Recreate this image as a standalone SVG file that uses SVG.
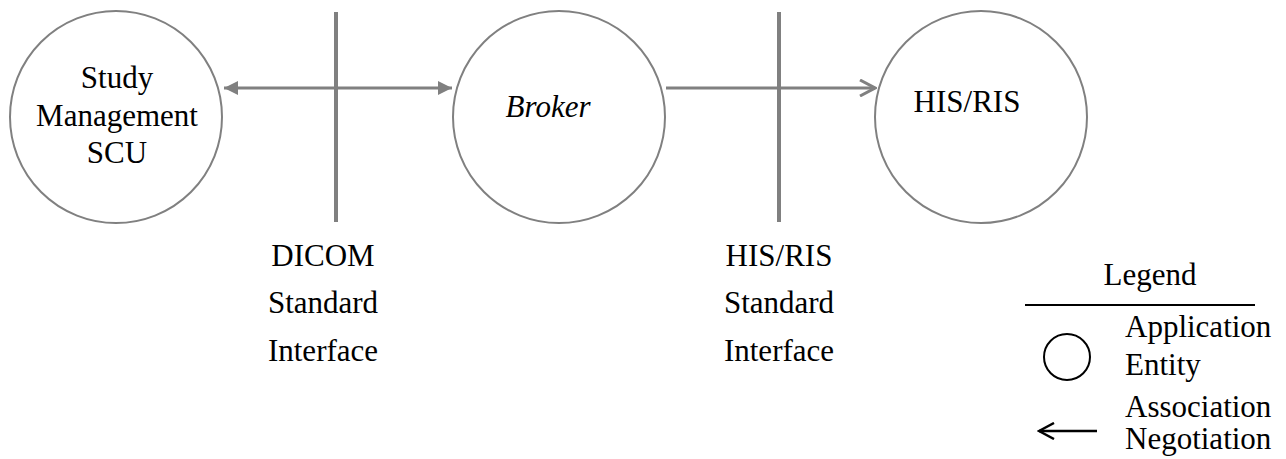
<svg xmlns="http://www.w3.org/2000/svg" width="1286" height="459" viewBox="0 0 1286 459" font-family="'Liberation Serif', 'DejaVu Serif', 'Times New Roman', Times, serif">
<style>
.ae{fill:#fff;stroke:#808080;stroke-width:2}
.bar{stroke:#808080;stroke-width:4}
.conn{stroke:#808080;stroke-width:3;fill:none}
text{font-family:'Liberation Serif','DejaVu Serif','Times New Roman',Times,serif;font-size:31px;fill:#000}
.c{text-anchor:middle}
</style>
<defs>
<marker id="fill" viewBox="0 0 14 14" refX="14" refY="7" markerWidth="14" markerHeight="14" markerUnits="userSpaceOnUse" orient="auto-start-reverse">
<path d="M0,0 L14,7 L0,14 Z" fill="#808080"/>
</marker>
<marker id="open" viewBox="0 0 18 18" refX="16" refY="9" markerWidth="18" markerHeight="18" markerUnits="userSpaceOnUse" orient="auto">
<path d="M1,1 L16,9 L1,17" fill="none" stroke="#808080" stroke-width="3"/>
</marker>
<marker id="openb" viewBox="0 0 18 18" refX="16" refY="9" markerWidth="18" markerHeight="18" markerUnits="userSpaceOnUse" orient="auto">
<path d="M1,1 L16,9 L1,17" fill="none" stroke="#000" stroke-width="2.5"/>
</marker>
</defs>
<rect width="1286" height="459" fill="#fff"/>
<g id="interfaces">
<line class="bar" x1="336" y1="12" x2="336" y2="222"/>
<line class="bar" x1="779" y1="12" x2="779" y2="222"/>
</g>
<g id="node-scu">
<circle class="ae" cx="116" cy="117" r="106"/>
<text class="c" x="117" y="88">Study</text>
<text class="c" x="117" y="126">Management</text>
<text class="c" x="117" y="163">SCU</text>
</g>
<g id="node-broker">
<circle class="ae" cx="559" cy="117" r="106"/>
<text class="c" x="548" y="117" font-style="italic">Broker</text>
</g>
<g id="node-hisris">
<circle class="ae" cx="981" cy="117" r="106"/>
<text class="c" x="967" y="112">HIS/RIS</text>
</g>
<g id="connectors">
<line class="conn" x1="224" y1="88" x2="452" y2="88" marker-start="url(#fill)" marker-end="url(#fill)"/>
<line class="conn" x1="666" y1="88" x2="875" y2="88" marker-end="url(#open)"/>
</g>
<g id="label-dicom">
<text class="c" x="323" y="266">DICOM</text>
<text class="c" x="323" y="313">Standard</text>
<text class="c" x="323" y="361">Interface</text>
</g>
<g id="label-hisris">
<text class="c" x="779" y="266">HIS/RIS</text>
<text class="c" x="779" y="313">Standard</text>
<text class="c" x="779" y="361">Interface</text>
</g>
<g id="legend">
<text class="c" x="1150" y="285">Legend</text>
<line x1="1025" y1="305" x2="1255" y2="305" stroke="#000" stroke-width="2"/>
<circle cx="1067" cy="357" r="23" fill="none" stroke="#000" stroke-width="2"/>
<text x="1125" y="337">Application</text>
<text x="1125" y="375">Entity</text>
<line x1="1097" y1="431" x2="1039" y2="431" stroke="#000" stroke-width="2.5" marker-end="url(#openb)"/>
<text x="1125" y="417">Association</text>
<text x="1125" y="449">Negotiation</text>
</g>
</svg>
